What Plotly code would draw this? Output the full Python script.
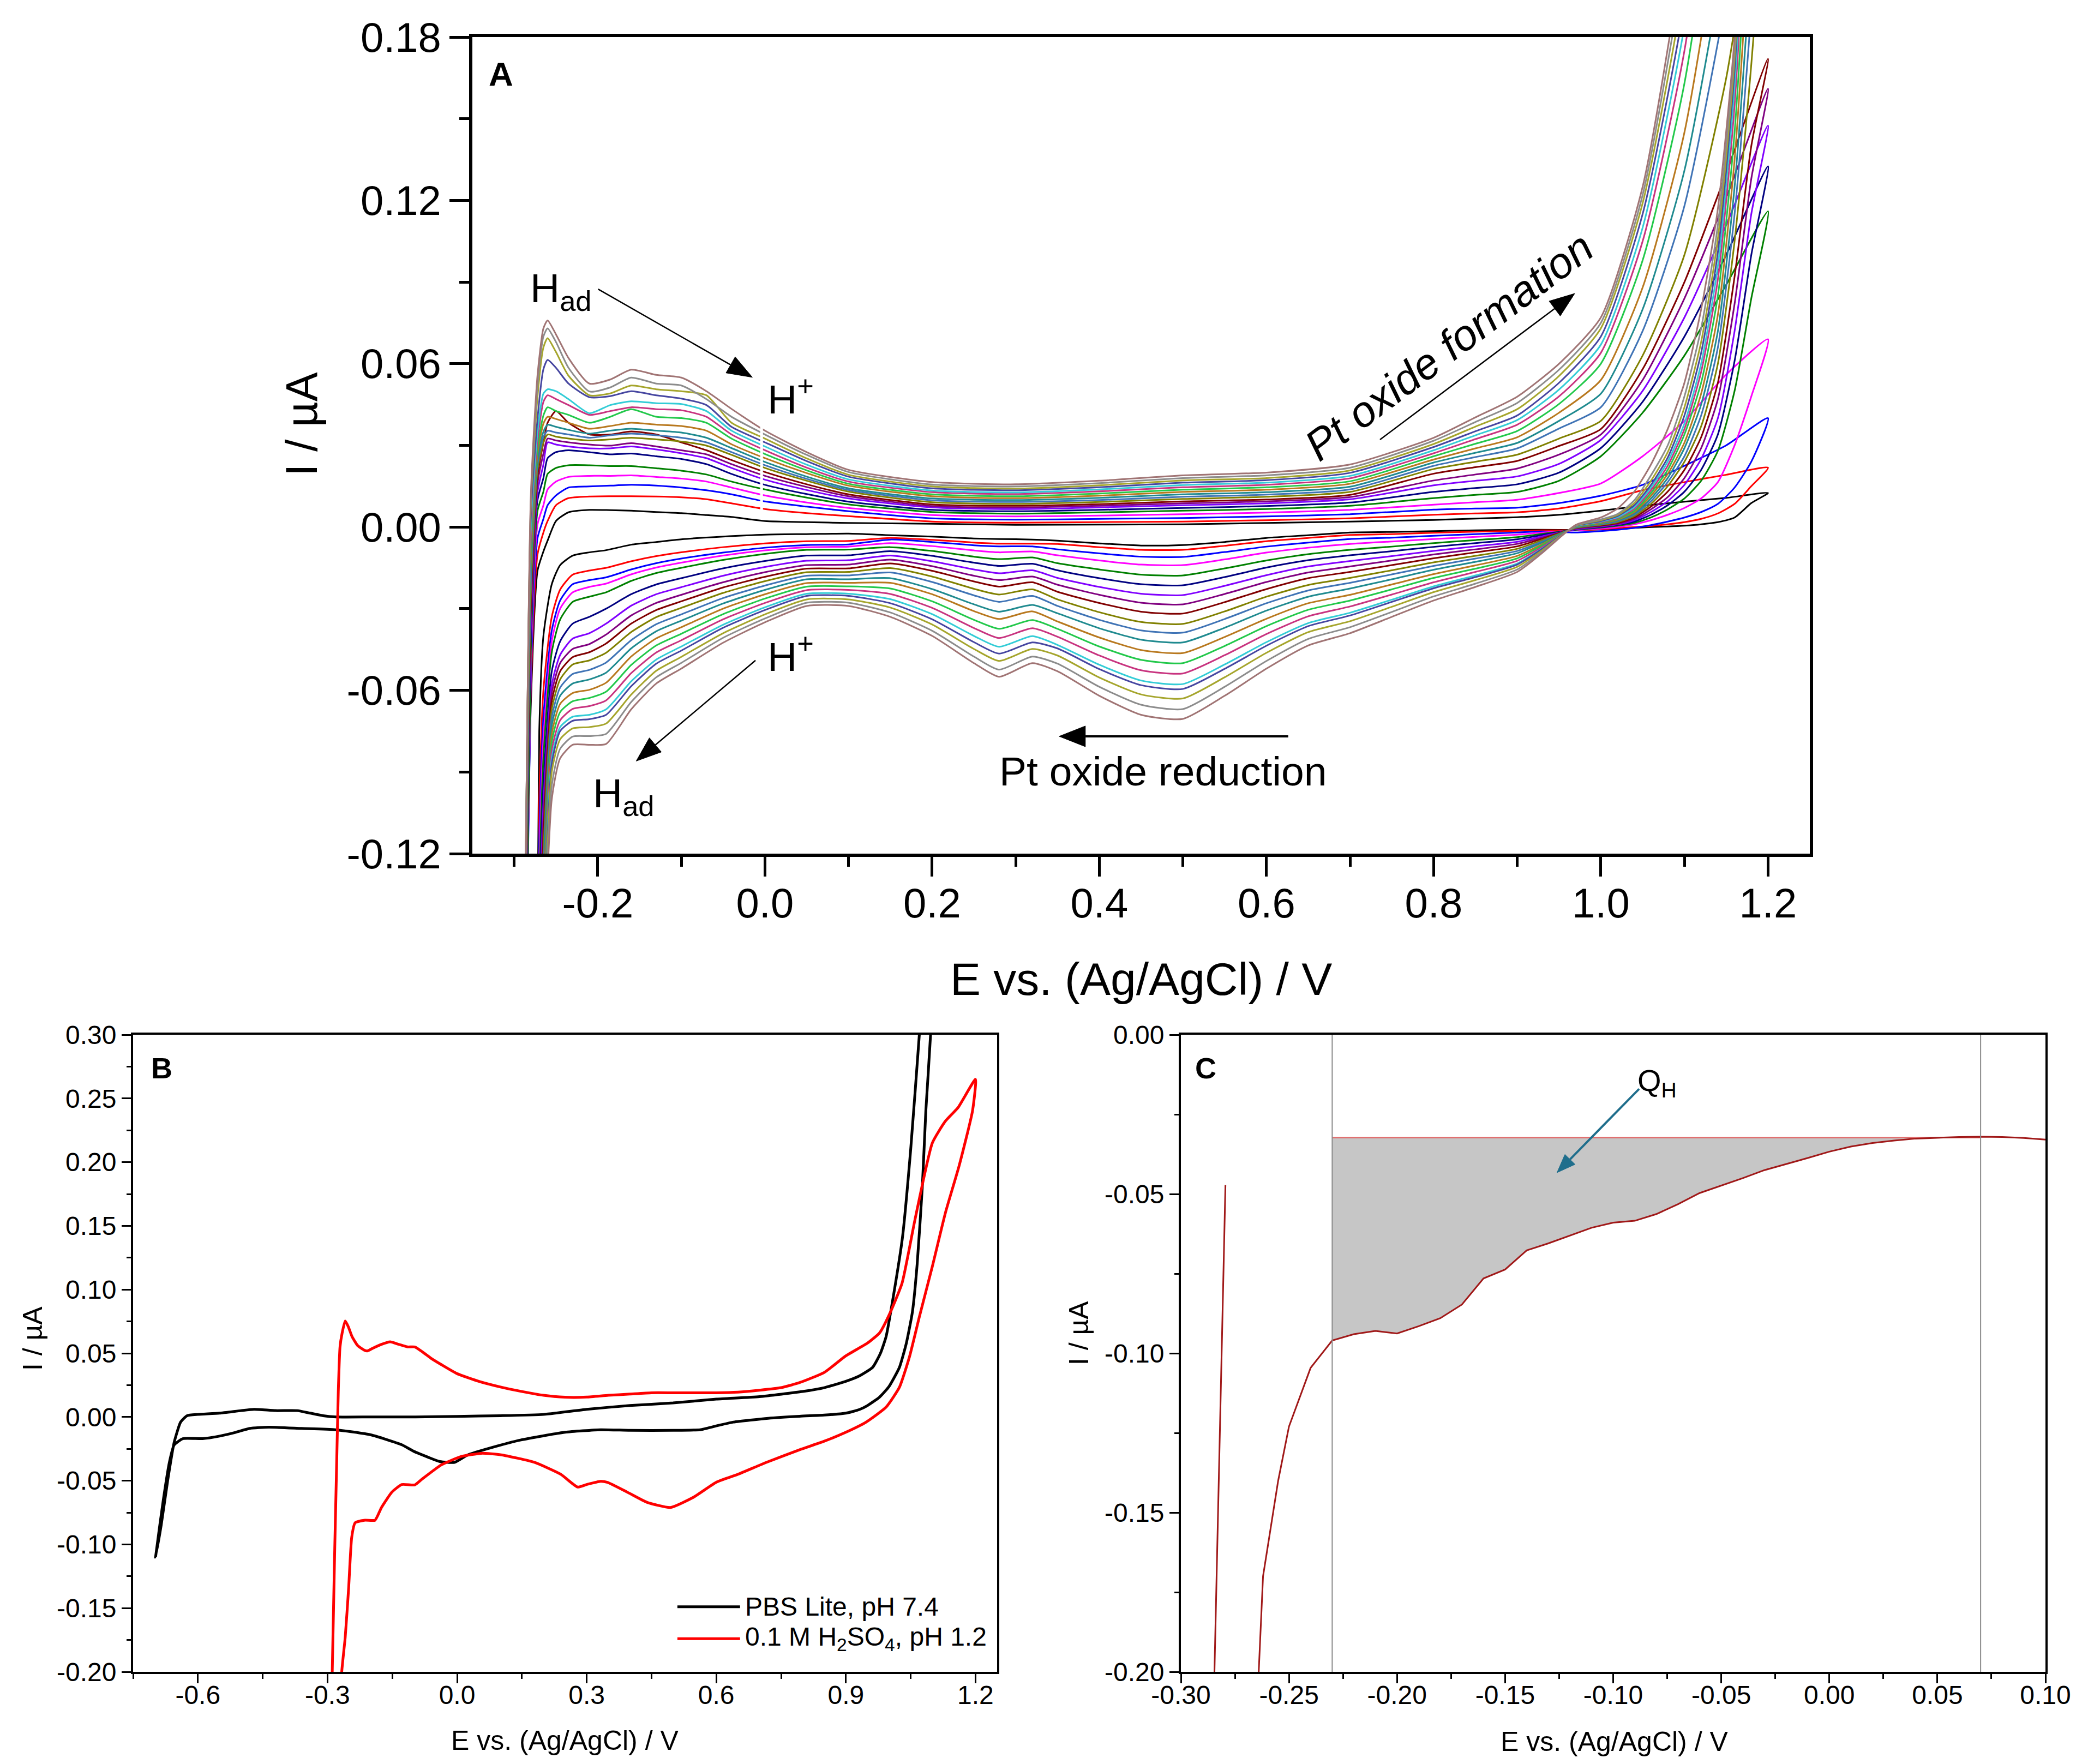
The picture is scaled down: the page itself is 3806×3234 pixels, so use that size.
import plotly.graph_objects as go

FONT = "Liberation Sans, Arial, sans-serif"

# =====================  PANEL A : 20 successive CV cycles  =====================
CYCLE_COLORS = ["#000000", "#FF0000", "#0000FF", "#FF00FF", "#008000",
                "#000080", "#8000FF", "#800080", "#800000", "#808000",
                "#3F73B5", "#1F8A8F", "#B8781E", "#22C84A", "#C8337F",
                "#33CCD6", "#4646A0", "#A5A52C", "#8C8C8C", "#A07474"]

# forward (anodic) sweep potentials, V
A_E_FWD = [-0.290, -0.280, -0.272, -0.265, -0.260, -0.250, -0.235, -0.210, -0.185, -0.160,
           -0.130, -0.100, -0.070, -0.040, 0.000, 0.050, 0.100, 0.200, 0.300, 0.400,
           0.500, 0.600, 0.700, 0.800, 0.850, 0.900, 0.950, 1.000, 1.050, 1.100,
           1.150, 1.200]
# currents (uA) at each forward potential, one value per cycle (cycle 1 ... cycle 20)
A_I_FWD = [
    [-0.25, -0.25, -0.25, -0.25, -0.25, -0.25, -0.25, -0.25, -0.25, -0.25, -0.25, -0.25, -0.25, -0.25, -0.25, -0.25, -0.25, -0.25, -0.25, -0.25],
    [-0.065, -0.060, -0.055, -0.050, -0.045, -0.040, -0.036, -0.032, -0.028, -0.024, -0.020, -0.016, -0.012, -0.008, -0.004, 0.000, 0.004, 0.008, 0.010, 0.012],
    [-0.016, -0.010, -0.004, 0.001, 0.006, 0.010, 0.013, 0.016, 0.019, 0.021, 0.023, 0.025, 0.027, 0.029, 0.032, 0.035, 0.040, 0.048, 0.052, 0.056],
    [-0.009, -0.002, 0.003, 0.008, 0.013, 0.018, 0.023, 0.027, 0.031, 0.031, 0.033, 0.035, 0.038, 0.041, 0.046, 0.049, 0.058, 0.066, 0.070, 0.073],
    [-0.0050, 0.0022, 0.0080, 0.0138, 0.0195, 0.0253, 0.0311, 0.0325, 0.0383, 0.0340, 0.0354, 0.0376, 0.0405, 0.0440, 0.0484, 0.0506, 0.0614, 0.0694, 0.0730, 0.0759],
    [0.0022, 0.0080, 0.0116, 0.0167, 0.0217, 0.0275, 0.0303, 0.0318, 0.0426, 0.0332, 0.0347, 0.0368, 0.0397, 0.0426, 0.0470, 0.0499, 0.0585, 0.0643, 0.0680, 0.0708],
    [0.0054, 0.0106, 0.0145, 0.0184, 0.0227, 0.0282, 0.0296, 0.0311, 0.0383, 0.0325, 0.0340, 0.0357, 0.0383, 0.0412, 0.0448, 0.0470, 0.0527, 0.0556, 0.0585, 0.0621],
    [0.0063, 0.0112, 0.0149, 0.0188, 0.0227, 0.0275, 0.0289, 0.0303, 0.0340, 0.0318, 0.0328, 0.0343, 0.0361, 0.0383, 0.0412, 0.0418, 0.0477, 0.0484, 0.0498, 0.0527],
    [0.0062, 0.0113, 0.0152, 0.0188, 0.0224, 0.0267, 0.0289, 0.0299, 0.0340, 0.0322, 0.0337, 0.0354, 0.0371, 0.0405, 0.0426, 0.0448, 0.0481, 0.0491, 0.0513, 0.0542],
    [0.0060, 0.0113, 0.0155, 0.0190, 0.0224, 0.0270, 0.0296, 0.0308, 0.0351, 0.0328, 0.0343, 0.0361, 0.0383, 0.0433, 0.0440, 0.0462, 0.0499, 0.0520, 0.0549, 0.0578],
    [0.0055, 0.0112, 0.0152, 0.0184, 0.0216, 0.0260, 0.0285, 0.0296, 0.0340, 0.0322, 0.0337, 0.0354, 0.0376, 0.0405, 0.0433, 0.0455, 0.0484, 0.0506, 0.0527, 0.0559],
    [0.0051, 0.0109, 0.0145, 0.0178, 0.0207, 0.0250, 0.0271, 0.0282, 0.0311, 0.0314, 0.0328, 0.0347, 0.0371, 0.0400, 0.0429, 0.0452, 0.0472, 0.0499, 0.0520, 0.0549],
    [0.0044, 0.0102, 0.0135, 0.0167, 0.0193, 0.0231, 0.0253, 0.0267, 0.0282, 0.0299, 0.0311, 0.0328, 0.0354, 0.0383, 0.0405, 0.0426, 0.0448, 0.0484, 0.0470, 0.0499],
    [0.0037, 0.0087, 0.0120, 0.0145, 0.0167, 0.0195, 0.0217, 0.0231, 0.0246, 0.0265, 0.0275, 0.0290, 0.0304, 0.0325, 0.0340, 0.0354, 0.0368, 0.0383, 0.0405, 0.0434],
    [0.0022, 0.0066, 0.0094, 0.0116, 0.0138, 0.0155, 0.0174, 0.0188, 0.0202, 0.0217, 0.0227, 0.0239, 0.0253, 0.0268, 0.0282, 0.0296, 0.0311, 0.0325, 0.0340, 0.0354],
    [0.0018, 0.0051, 0.0075, 0.0090, 0.0108, 0.0121, 0.0136, 0.0147, 0.0157, 0.0170, 0.0177, 0.0185, 0.0198, 0.0208, 0.0218, 0.0229, 0.0242, 0.0252, 0.0265, 0.0275],
    [0.0015, 0.0040, 0.0058, 0.0070, 0.0083, 0.0093, 0.0105, 0.0113, 0.0120, 0.0130, 0.0136, 0.0142, 0.0152, 0.0159, 0.0167, 0.0175, 0.0185, 0.0192, 0.0202, 0.0210],
    [0.0012, 0.0020, 0.0032, 0.0044, 0.0055, 0.0063, 0.0072, 0.0077, 0.0083, 0.0091, 0.0098, 0.0105, 0.0113, 0.0120, 0.0128, 0.0134, 0.0142, 0.0149, 0.0156, 0.0165],
    [0.0008, 0.0016, 0.0027, 0.0039, 0.0049, 0.0058, 0.0066, 0.0072, 0.0078, 0.0085, 0.0092, 0.0099, 0.0106, 0.0113, 0.0121, 0.0127, 0.0135, 0.0141, 0.0149, 0.0157],
    [0.0009, 0.0018, 0.0030, 0.0042, 0.0054, 0.0063, 0.0072, 0.0078, 0.0084, 0.0092, 0.0099, 0.0107, 0.0115, 0.0123, 0.0131, 0.0138, 0.0146, 0.0153, 0.0161, 0.0170],
    [0.0010, 0.0020, 0.0033, 0.0047, 0.0060, 0.0070, 0.0080, 0.0087, 0.0094, 0.0103, 0.0111, 0.0120, 0.0129, 0.0137, 0.0146, 0.0154, 0.0163, 0.0171, 0.0180, 0.0190],
    [0.0015, 0.0025, 0.0039, 0.0053, 0.0066, 0.0077, 0.0087, 0.0094, 0.0101, 0.0111, 0.0119, 0.0128, 0.0137, 0.0146, 0.0155, 0.0163, 0.0172, 0.0180, 0.0190, 0.0200],
    [0.0020, 0.0032, 0.0047, 0.0063, 0.0078, 0.0090, 0.0102, 0.0110, 0.0118, 0.0129, 0.0138, 0.0148, 0.0159, 0.0168, 0.0179, 0.0188, 0.0199, 0.0208, 0.0218, 0.0230],
    [0.0026, 0.0045, 0.0064, 0.0082, 0.0106, 0.0129, 0.0153, 0.0171, 0.0196, 0.0213, 0.0225, 0.0237, 0.0248, 0.0260, 0.0271, 0.0282, 0.0294, 0.0305, 0.0317, 0.0328],
    [0.0031, 0.0050, 0.0068, 0.0091, 0.0118, 0.0143, 0.0170, 0.0193, 0.0220, 0.0240, 0.0257, 0.0273, 0.0289, 0.0306, 0.0323, 0.0337, 0.0352, 0.0369, 0.0386, 0.0403],
    [0.0036, 0.0054, 0.0071, 0.0100, 0.0129, 0.0157, 0.0186, 0.0215, 0.0243, 0.0266, 0.0289, 0.0309, 0.0330, 0.0353, 0.0376, 0.0393, 0.0410, 0.0433, 0.0456, 0.0479],
    [0.0045, 0.0068, 0.0088, 0.0125, 0.0170, 0.0200, 0.0232, 0.0266, 0.0298, 0.0325, 0.0362, 0.0390, 0.0420, 0.0452, 0.0480, 0.0505, 0.0530, 0.0555, 0.0578, 0.0600],
    [0.0060, 0.0095, 0.0115, 0.0160, 0.0260, 0.0290, 0.0320, 0.0340, 0.0360, 0.0390, 0.0440, 0.0490, 0.0540, 0.0600, 0.0640, 0.0670, 0.0700, 0.0730, 0.0750, 0.0770],
    [0.0078, 0.0135, 0.0155, 0.0260, 0.0420, 0.0460, 0.0500, 0.0540, 0.0580, 0.0630, 0.0720, 0.0800, 0.0880, 0.0980, 0.1050, 0.1100, 0.1150, 0.1190, 0.1220, 0.1250],
    [0.0093, 0.0165, 0.0225, 0.0390, 0.0630, 0.0700, 0.0770, 0.0840, 0.0900, 0.1000, 0.1180, 0.1310, 0.1450, 0.1630, 0.1750, 0.1840, 0.1920, 0.2000, 0.2080, 0.2150],
    [0.0107, 0.0192, 0.0300, 0.0560, 0.0890, 0.1000, 0.1110, 0.1210, 0.1300, 0.1650, 0.1950, 0.2150, 0.2400, 0.2700, 0.2900, 0.3000, 0.3100, 0.3200, 0.3300, 0.3400],
    [0.0125, 0.0218, 0.0400, 0.0690, 0.1160, 0.1325, 0.1475, 0.1610, 0.1720, 0.2600, 0.3000, 0.3400, 0.3800, 0.4200, 0.4600, 0.4800, 0.5000, 0.5200, 0.5400, 0.5600],
]

# reverse (cathodic) sweep potentials, V
A_E_REV = [1.18, 1.16, 1.14, 1.12, 1.10, 1.08, 1.06, 1.04, 1.02, 1.00,
           0.97, 0.93, 0.90, 0.85, 0.80, 0.75, 0.70, 0.65, 0.60, 0.55,
           0.50, 0.45, 0.40, 0.35, 0.32, 0.28, 0.25, 0.20, 0.15, 0.10,
           0.05, 0.00, -0.05, -0.10, -0.13, -0.16, -0.19, -0.21, -0.23, -0.245,
           -0.255, -0.265, -0.270, -0.275]
A_I_REV = [
    [0.0088, 0.0150, 0.0240, 0.0480, 0.0840, 0.1000, 0.1150, 0.1280, 0.1400, 0.1700, 0.1900, 0.2100, 0.2300, 0.2500, 0.2700, 0.2800, 0.2900, 0.3000, 0.3100, 0.3200],
    [0.0035, 0.0085, 0.0145, 0.0300, 0.0500, 0.0610, 0.0720, 0.0820, 0.0920, 0.1050, 0.1150, 0.1250, 0.1350, 0.1450, 0.1550, 0.1620, 0.1680, 0.1720, 0.1760, 0.1800],
    [0.0018, 0.0050, 0.0085, 0.0165, 0.0280, 0.0340, 0.0400, 0.0470, 0.0530, 0.0600, 0.0660, 0.0720, 0.0780, 0.0850, 0.0910, 0.0960, 0.1010, 0.1060, 0.1110, 0.1170],
    [0.0010, 0.0030, 0.0055, 0.0105, 0.0170, 0.0210, 0.0250, 0.0290, 0.0330, 0.0370, 0.0410, 0.0450, 0.0490, 0.0530, 0.0570, 0.0600, 0.0640, 0.0680, 0.0730, 0.0800],
    [0.0005, 0.0018, 0.0035, 0.0070, 0.0105, 0.0130, 0.0155, 0.0180, 0.0210, 0.0240, 0.0260, 0.0290, 0.0310, 0.0340, 0.0360, 0.0380, 0.0410, 0.0440, 0.0480, 0.0530],
    [0.0002, 0.0010, 0.0020, 0.0045, 0.0065, 0.0080, 0.0095, 0.0110, 0.0130, 0.0150, 0.0165, 0.0180, 0.0195, 0.0210, 0.0225, 0.0240, 0.0255, 0.0275, 0.0300, 0.0360],
    [0.0000, 0.0004, 0.0007, 0.0025, 0.0035, 0.0045, 0.0055, 0.0065, 0.0075, 0.0085, 0.0095, 0.0105, 0.0115, 0.0125, 0.0135, 0.0145, 0.0155, 0.0170, 0.0190, 0.0230],
    [-0.0003, 0.0000, -0.0003, 0.0010, 0.0015, 0.0020, 0.0025, 0.0030, 0.0035, 0.0040, 0.0045, 0.0050, 0.0055, 0.0060, 0.0067, 0.0073, 0.0080, 0.0088, 0.0098, 0.0130],
    [-0.0006, -0.0004, -0.0010, 0.0000, 0.0005, 0.0008, 0.0010, 0.0012, 0.0015, 0.0018, 0.0021, 0.0024, 0.0027, 0.0030, 0.0033, 0.0036, 0.0040, 0.0044, 0.0048, 0.0068],
    [-0.0009, -0.0008, -0.0015, -0.0006, -0.0002, 0.0000, 0.0002, 0.0004, 0.0006, 0.0008, 0.0010, 0.0012, 0.0014, 0.0016, 0.0018, 0.0020, 0.0022, 0.0025, 0.0028, 0.0035],
    [-0.0011, -0.0012, -0.0020, -0.0012, -0.0010, -0.0009, -0.0008, -0.0006, -0.0004, -0.0003, -0.0002, -0.0001, 0.0000, 0.0001, 0.0002, 0.0003, 0.0004, 0.0005, 0.0006, 0.0008],
    [-0.0010, -0.0012, -0.0016, -0.0020, -0.0025, -0.0029, -0.0034, -0.0039, -0.0043, -0.0048, -0.0053, -0.0057, -0.0063, -0.0067, -0.0073, -0.0078, -0.0080, -0.0085, -0.0090, -0.0095],
    [-0.0010, -0.0014, -0.0020, -0.0028, -0.0037, -0.0045, -0.0054, -0.0062, -0.0071, -0.0080, -0.0088, -0.0096, -0.0106, -0.0115, -0.0124, -0.0134, -0.0138, -0.0146, -0.0156, -0.0165],
    [-0.0012, -0.0017, -0.0026, -0.0036, -0.0048, -0.0059, -0.0071, -0.0082, -0.0093, -0.0106, -0.0116, -0.0128, -0.0141, -0.0153, -0.0165, -0.0178, -0.0184, -0.0195, -0.0208, -0.0220],
    [-0.0015, -0.0021, -0.0032, -0.0044, -0.0059, -0.0073, -0.0088, -0.0101, -0.0115, -0.0130, -0.0143, -0.0157, -0.0173, -0.0187, -0.0203, -0.0218, -0.0225, -0.0239, -0.0255, -0.0270],
    [-0.0018, -0.0026, -0.0039, -0.0053, -0.0072, -0.0089, -0.0107, -0.0123, -0.0140, -0.0159, -0.0174, -0.0192, -0.0211, -0.0229, -0.0248, -0.0267, -0.0275, -0.0293, -0.0312, -0.0330],
    [-0.0020, -0.0029, -0.0044, -0.0062, -0.0084, -0.0104, -0.0125, -0.0145, -0.0165, -0.0187, -0.0205, -0.0226, -0.0249, -0.0270, -0.0292, -0.0315, -0.0325, -0.0346, -0.0368, -0.0390],
    [-0.0030, -0.0040, -0.0057, -0.0076, -0.0100, -0.0122, -0.0145, -0.0167, -0.0188, -0.0213, -0.0233, -0.0256, -0.0280, -0.0304, -0.0328, -0.0353, -0.0364, -0.0386, -0.0411, -0.0435],
    [-0.0040, -0.0052, -0.0072, -0.0094, -0.0123, -0.0149, -0.0177, -0.0202, -0.0228, -0.0256, -0.0280, -0.0307, -0.0337, -0.0364, -0.0393, -0.0423, -0.0436, -0.0462, -0.0492, -0.0520],
    [-0.0055, -0.0069, -0.0092, -0.0119, -0.0152, -0.0184, -0.0216, -0.0246, -0.0276, -0.0310, -0.0338, -0.0370, -0.0404, -0.0437, -0.0471, -0.0505, -0.0521, -0.0552, -0.0587, -0.0620],
    [-0.0066, -0.0084, -0.0110, -0.0140, -0.0178, -0.0214, -0.0250, -0.0284, -0.0318, -0.0356, -0.0388, -0.0424, -0.0463, -0.0500, -0.0538, -0.0577, -0.0595, -0.0630, -0.0669, -0.0705],
    [-0.0068, -0.0084, -0.0109, -0.0138, -0.0175, -0.0210, -0.0245, -0.0278, -0.0311, -0.0349, -0.0380, -0.0414, -0.0452, -0.0488, -0.0526, -0.0564, -0.0581, -0.0615, -0.0653, -0.0690],
    [-0.0060, -0.0074, -0.0097, -0.0123, -0.0156, -0.0188, -0.0220, -0.0249, -0.0279, -0.0313, -0.0341, -0.0372, -0.0406, -0.0439, -0.0472, -0.0506, -0.0522, -0.0553, -0.0587, -0.0620],
    [-0.0050, -0.0062, -0.0082, -0.0104, -0.0133, -0.0159, -0.0187, -0.0212, -0.0238, -0.0266, -0.0290, -0.0317, -0.0347, -0.0374, -0.0403, -0.0433, -0.0446, -0.0472, -0.0502, -0.0530],
    [-0.0046, -0.0061, -0.0071, -0.0090, -0.0112, -0.0135, -0.0159, -0.0182, -0.0203, -0.0229, -0.0253, -0.0286, -0.0310, -0.0342, -0.0372, -0.0401, -0.0424, -0.0448, -0.0476, -0.0500],
    [-0.0044, -0.0061, -0.0071, -0.0093, -0.0118, -0.0143, -0.0170, -0.0195, -0.0219, -0.0248, -0.0275, -0.0311, -0.0338, -0.0374, -0.0408, -0.0440, -0.0465, -0.0492, -0.0524, -0.0550],
    [-0.0042, -0.0057, -0.0067, -0.0086, -0.0109, -0.0131, -0.0156, -0.0179, -0.0200, -0.0227, -0.0251, -0.0284, -0.0309, -0.0341, -0.0371, -0.0400, -0.0423, -0.0448, -0.0476, -0.0500],
    [-0.0035, -0.0047, -0.0055, -0.0070, -0.0088, -0.0106, -0.0126, -0.0144, -0.0161, -0.0182, -0.0202, -0.0228, -0.0247, -0.0273, -0.0297, -0.0320, -0.0339, -0.0358, -0.0381, -0.0400],
    [-0.0030, -0.0040, -0.0046, -0.0059, -0.0074, -0.0089, -0.0105, -0.0120, -0.0134, -0.0151, -0.0167, -0.0188, -0.0205, -0.0226, -0.0246, -0.0265, -0.0280, -0.0296, -0.0314, -0.0330],
    [-0.0024, -0.0051, -0.0064, -0.0072, -0.0083, -0.0104, -0.0122, -0.0138, -0.0152, -0.0165, -0.0178, -0.0192, -0.0205, -0.0218, -0.0231, -0.0245, -0.0253, -0.0266, -0.0278, -0.0290],
    [-0.0026, -0.0052, -0.0066, -0.0074, -0.0084, -0.0105, -0.0124, -0.0140, -0.0153, -0.0166, -0.0179, -0.0192, -0.0206, -0.0219, -0.0232, -0.0245, -0.0253, -0.0266, -0.0278, -0.0290],
    [-0.0028, -0.0060, -0.0076, -0.0086, -0.0099, -0.0125, -0.0147, -0.0166, -0.0183, -0.0199, -0.0215, -0.0231, -0.0247, -0.0263, -0.0279, -0.0295, -0.0305, -0.0321, -0.0336, -0.0350],
    [-0.0035, -0.0074, -0.0094, -0.0105, -0.0121, -0.0152, -0.0179, -0.0203, -0.0222, -0.0242, -0.0261, -0.0281, -0.0300, -0.0320, -0.0339, -0.0359, -0.0370, -0.0390, -0.0407, -0.0425],
    [-0.0045, -0.0093, -0.0116, -0.0131, -0.0150, -0.0188, -0.0221, -0.0249, -0.0273, -0.0297, -0.0321, -0.0344, -0.0368, -0.0392, -0.0416, -0.0439, -0.0454, -0.0477, -0.0499, -0.0520],
    [-0.0055, -0.0107, -0.0133, -0.0149, -0.0169, -0.0211, -0.0247, -0.0279, -0.0305, -0.0331, -0.0357, -0.0383, -0.0409, -0.0435, -0.0461, -0.0487, -0.0502, -0.0528, -0.0552, -0.0575],
    [-0.0065, -0.0126, -0.0156, -0.0174, -0.0198, -0.0247, -0.0289, -0.0325, -0.0355, -0.0386, -0.0416, -0.0446, -0.0476, -0.0507, -0.0537, -0.0567, -0.0585, -0.0616, -0.0643, -0.0670],
    [-0.0085, -0.0150, -0.0185, -0.0208, -0.0240, -0.0300, -0.0355, -0.0395, -0.0428, -0.0462, -0.0498, -0.0535, -0.0572, -0.0605, -0.0637, -0.0670, -0.0690, -0.0722, -0.0760, -0.0797],
    [-0.0093, -0.0160, -0.0195, -0.0220, -0.0256, -0.0330, -0.0390, -0.0430, -0.0460, -0.0490, -0.0525, -0.0560, -0.0598, -0.0628, -0.0658, -0.0690, -0.0706, -0.0735, -0.0768, -0.0800],
    [-0.0105, -0.0175, -0.0210, -0.0240, -0.0275, -0.0355, -0.0410, -0.0448, -0.0478, -0.0505, -0.0540, -0.0575, -0.0610, -0.0640, -0.0668, -0.0697, -0.0712, -0.0740, -0.0770, -0.0800],
    [-0.0140, -0.0230, -0.0270, -0.0300, -0.0340, -0.0420, -0.0470, -0.0500, -0.0530, -0.0560, -0.0590, -0.0620, -0.0650, -0.0680, -0.0710, -0.0735, -0.0750, -0.0780, -0.0815, -0.0850],
    [-0.0210, -0.0330, -0.0380, -0.0420, -0.0460, -0.0530, -0.0580, -0.0610, -0.0640, -0.0670, -0.0700, -0.0730, -0.0760, -0.0790, -0.0820, -0.0850, -0.0870, -0.0900, -0.0950, -0.1000],
    [-0.0400, -0.0600, -0.0700, -0.0780, -0.0850, -0.0950, -0.1020, -0.1080, -0.1140, -0.1200, -0.1260, -0.1320, -0.1380, -0.1440, -0.1500, -0.1540, -0.1570, -0.1600, -0.1630, -0.1660],
    [-0.0750, -0.1000, -0.1150, -0.1250, -0.1350, -0.1450, -0.1550, -0.1650, -0.1750, -0.1850, -0.1950, -0.2000, -0.2000, -0.2000, -0.2000, -0.2000, -0.2000, -0.2000, -0.2000, -0.2000],
    [-0.25, -0.25, -0.25, -0.25, -0.25, -0.25, -0.25, -0.25, -0.25, -0.25, -0.25, -0.25, -0.25, -0.25, -0.25, -0.25, -0.25, -0.25, -0.25, -0.25],
]

A_XTICKS = [-0.2, 0.0, 0.2, 0.4, 0.6, 0.8, 1.0, 1.2]
A_YTICKS = [-0.12, -0.06, 0.00, 0.06, 0.12, 0.18]

# =====================  PANEL B : PBS vs H2SO4  =====================
PBS_E = [-0.698, -0.685, -0.670, -0.655, -0.640, -0.625, -0.600, -0.550, -0.500, -0.470,
         -0.420, -0.370, -0.340, -0.310, -0.280, -0.200, -0.100, 0.000, 0.100, 0.200,
         0.300, 0.400, 0.500, 0.600, 0.700, 0.800, 0.850, 0.900, 0.930, 0.962,
         0.980, 0.993, 1.010, 1.031, 1.050, 1.070, 1.080,
         1.100, 1.096, 1.085, 1.077, 1.065, 1.054, 1.040, 1.024, 1.000, 0.978,
         0.950, 0.931, 0.900, 0.850, 0.793, 0.720, 0.640, 0.600, 0.563, 0.500,
         0.400, 0.332, 0.250, 0.148, 0.080, 0.025, -0.006, -0.040, -0.067, -0.100,
         -0.128, -0.200, -0.282, -0.360, -0.436, -0.480, -0.512, -0.550, -0.589, -0.635,
         -0.655, -0.666, -0.680, -0.698]
PBS_I = [-0.110, -0.085, -0.050, -0.020, -0.004, 0.001, 0.002, 0.003, 0.005, 0.006,
         0.005, 0.005, 0.003, 0.001, 0.000, 0.000, 0.000, 0.0005, 0.001, 0.002,
         0.006, 0.009, 0.011, 0.014, 0.016, 0.020, 0.023, 0.028, 0.032, 0.039,
         0.050, 0.063, 0.095, 0.141, 0.210, 0.300, 0.350,
         0.350, 0.300, 0.240, 0.181, 0.120, 0.0825, 0.058, 0.039, 0.024, 0.0156,
         0.009, 0.0058, 0.003, 0.0015, 0.0006, -0.001, -0.004, -0.007, -0.010, -0.0105,
         -0.0105, -0.010, -0.012, -0.018, -0.024, -0.0297, -0.0356, -0.035, -0.0316, -0.027,
         -0.0218, -0.014, -0.010, -0.009, -0.008, -0.009, -0.012, -0.015, -0.017, -0.017,
         -0.022, -0.0356, -0.065, -0.110]

H2SO4_E = [-0.292, -0.289, -0.286, -0.283, -0.279, -0.275, -0.271, -0.266, -0.259, -0.252,
           -0.243, -0.230, -0.215, -0.208, -0.195, -0.175, -0.155, -0.135, -0.115, -0.098,
           -0.080, -0.060, -0.036, 0.000, 0.050, 0.102, 0.150, 0.200, 0.250, 0.300,
           0.350, 0.400, 0.450, 0.500, 0.550, 0.600, 0.650, 0.700, 0.750, 0.793,
           0.850, 0.900, 0.950, 0.978, 1.000, 1.030, 1.060, 1.100, 1.130, 1.160, 1.200,
           1.193, 1.162, 1.131, 1.100, 1.070, 1.047, 1.024, 0.993, 0.947, 0.900,
           0.850, 0.793, 0.716, 0.650, 0.601, 0.547, 0.494, 0.440, 0.394, 0.348,
           0.332, 0.300, 0.279, 0.240, 0.179, 0.102, 0.056, 0.010, -0.036, -0.082,
           -0.098, -0.128, -0.151, -0.175, -0.190, -0.213, -0.236, -0.244, -0.251, -0.259,
           -0.267, -0.272]
H2SO4_I = [-0.250, -0.200, -0.150, -0.100, -0.040, 0.020, 0.055, 0.066, 0.0754, 0.071,
           0.063, 0.056, 0.0525, 0.0518, 0.054, 0.057, 0.059, 0.057, 0.055, 0.055,
           0.051, 0.046, 0.041, 0.034, 0.028, 0.0234, 0.020, 0.017, 0.0155, 0.0156,
           0.017, 0.018, 0.019, 0.019, 0.019, 0.019, 0.0195, 0.021, 0.023, 0.027,
           0.035, 0.048, 0.058, 0.066, 0.080, 0.105, 0.155, 0.215, 0.232, 0.243, 0.265,
           0.240, 0.197, 0.161, 0.118, 0.0785, 0.047, 0.0234, 0.0077, -0.004, -0.012,
           -0.019, -0.0257, -0.0356, -0.045, -0.051, -0.063, -0.071, -0.067, -0.059, -0.0513,
           -0.0505, -0.053, -0.055, -0.045, -0.0356, -0.0297, -0.0285, -0.031, -0.0375, -0.049,
           -0.0533, -0.053, -0.059, -0.071, -0.081, -0.081, -0.083, -0.0946, -0.134, -0.173,
           -0.200, -0.250]

B_XTICKS = [-0.6, -0.3, 0.0, 0.3, 0.6, 0.9, 1.2]
B_YTICKS = [-0.20, -0.15, -0.10, -0.05, 0.00, 0.05, 0.10, 0.15, 0.20, 0.25, 0.30]

# =====================  PANEL C : H-desorption charge  =====================
C_E = [0.100, 0.090, 0.080, 0.070, 0.060, 0.050, 0.040, 0.030, 0.020, 0.010,
       0.000, -0.010, -0.020, -0.030, -0.040, -0.050, -0.060, -0.070, -0.080, -0.090,
       -0.100, -0.110, -0.120, -0.130, -0.140, -0.150, -0.160, -0.170, -0.180, -0.190,
       -0.200, -0.210, -0.220, -0.230, -0.240, -0.250, -0.255, -0.260, -0.262, -0.264,
       -0.270, -0.2878, -0.2845, -0.2794]
C_I = [-0.0329, -0.0324, -0.0321, -0.0320, -0.0321, -0.0323, -0.0326, -0.0332, -0.0340, -0.0351,
       -0.0367, -0.0387, -0.0406, -0.0425, -0.0450, -0.0474, -0.0497, -0.0532, -0.0563, -0.0584,
       -0.0590, -0.0606, -0.0630, -0.0655, -0.0677, -0.0737, -0.0765, -0.0847, -0.0890, -0.0915,
       -0.0938, -0.0930, -0.0940, -0.0960, -0.1046, -0.1230, -0.1400, -0.1610, -0.1700, -0.2000,
       -0.3000, -0.3000, -0.2000, -0.0472]
QH_E_START = -0.23
QH_E_END = 0.07
QH_FILL_END = 0.045
QH_BASELINE = -0.0323

C_XTICKS = [-0.30, -0.25, -0.20, -0.15, -0.10, -0.05, 0.00, 0.05, 0.10]
C_YTICKS = [-0.20, -0.15, -0.10, -0.05, 0.00]

assert len(A_E_FWD) == len(A_I_FWD) and len(A_E_REV) == len(A_I_REV)
assert len(PBS_E) == len(PBS_I) and len(H2SO4_E) == len(H2SO4_I) and len(C_E) == len(C_I)

# =====================  FIGURE  =====================
W, H = 3806, 3234
fig = go.Figure()

# Panel A traces
for k, col in enumerate(CYCLE_COLORS):
    xs = A_E_FWD + A_E_REV
    ys = [row[k] for row in A_I_FWD] + [row[k] for row in A_I_REV]
    fig.add_trace(go.Scatter(x=xs, y=ys, mode="lines",
                             line=dict(color=col, width=3, shape="spline", smoothing=0.6),
                             xaxis="x", yaxis="y", showlegend=False, hoverinfo="skip"))

# Panel B traces
fig.add_trace(go.Scatter(x=PBS_E, y=PBS_I, mode="lines",
                         line=dict(color="#000000", width=5, shape="spline", smoothing=0.5),
                         xaxis="x2", yaxis="y2", showlegend=False))
fig.add_trace(go.Scatter(x=H2SO4_E, y=H2SO4_I, mode="lines",
                         line=dict(color="#FF0000", width=5, shape="spline", smoothing=0.5),
                         xaxis="x2", yaxis="y2", showlegend=False))

# Panel C traces: shaded Q_H area, baseline, curve
fill_pts = [(e, i) for e, i in zip(C_E, C_I) if QH_E_START <= e <= QH_FILL_END]
fill_x = [p[0] for p in fill_pts] + [QH_E_START, QH_FILL_END]
fill_y = [p[1] for p in fill_pts] + [QH_BASELINE, QH_BASELINE]
fig.add_trace(go.Scatter(x=fill_x, y=fill_y, mode="lines", fill="toself", fillcolor="#C6C6C6",
                         line=dict(width=0, color="#C6C6C6"), xaxis="x3", yaxis="y3", showlegend=False))
fig.add_trace(go.Scatter(x=[QH_E_START, QH_E_END], y=[QH_BASELINE, QH_BASELINE], mode="lines",
                         line=dict(color="#E06A6A", width=2.5), xaxis="x3", yaxis="y3", showlegend=False))
fig.add_trace(go.Scatter(x=C_E, y=C_I, mode="lines", line=dict(color="#A01818", width=3),
                         xaxis="x3", yaxis="y3", showlegend=False))


def fmt_ticks(vals, nd):
    return [f"{v:.{nd}f}" for v in vals]


def make_axis(domain, rng, ticks, nd, minor_dtick, lw, tlen, tw, fsize, anchor, standoff=0):
    return dict(domain=domain, range=rng, anchor=anchor, automargin=False,
                tickmode="array", tickvals=ticks, ticktext=fmt_ticks(ticks, nd),
                ticks="outside", ticklen=tlen, tickwidth=tw, tickcolor="black",
                ticklabelstandoff=standoff,
                showline=True, linewidth=lw, linecolor="black", mirror=True,
                showgrid=False, zeroline=False,
                tickfont=dict(family=FONT, size=fsize, color="black"),
                minor=dict(dtick=minor_dtick, tick0=0, ticks="outside", ticklen=tlen * 0.5,
                           tickwidth=tw, tickcolor="black", showgrid=False))


def px_x(p):
    return p / W


def px_y(p):
    return 1 - p / H


A_DX = [px_x(858), px_x(3310)]
A_DY = [px_y(1557), px_y(60)]
B_DX = [px_x(236), px_x(1820)]
C_DX = [px_x(2157), px_x(3742)]
BC_DY = [px_y(3057), px_y(1889)]
A_RX, A_RY = [-0.35, 1.25], [-0.12, 0.18]
C_RX, C_RY = [-0.30, 0.10], [-0.20, 0.00]

fig.update_layout(
    width=W, height=H, margin=dict(l=0, r=0, t=0, b=0, autoexpand=False),
    paper_bgcolor="white", plot_bgcolor="white", showlegend=False,
    font=dict(family=FONT, color="black"),
    xaxis=make_axis(A_DX, A_RX, A_XTICKS, 1, 0.1, 6, 36, 5, 76, "y", -16),
    yaxis=make_axis(A_DY, A_RY, A_YTICKS, 2, 0.03, 6, 36, 5, 76, "x"),
    xaxis2=make_axis(B_DX, [-0.75, 1.25], B_XTICKS, 1, 0.15, 4, 17, 3, 48, "y2", -20),
    yaxis2=make_axis(BC_DY, [-0.20, 0.30], B_YTICKS, 2, 0.025, 4, 17, 3, 48, "x2"),
    xaxis3=make_axis(C_DX, C_RX, C_XTICKS, 2, 0.025, 4, 17, 3, 48, "y3", -20),
    yaxis3=make_axis(BC_DY, C_RY, C_YTICKS, 2, 0.025, 4, 17, 3, 48, "x3"),
)

# pixel scales of panels A and C (px per data unit), used to shape arrowheads
A_SX = (A_DX[1] - A_DX[0]) * W / (A_RX[1] - A_RX[0])
A_SY = (A_DY[1] - A_DY[0]) * H / (A_RY[1] - A_RY[0])
C_SX = (C_DX[1] - C_DX[0]) * W / (C_RX[1] - C_RX[0])
C_SY = (BC_DY[1] - BC_DY[0]) * H / (C_RY[1] - C_RY[0])

ann = []
shapes = []


def text(x, y, s, size, xref="x", yref="y", xanchor="center", yanchor="middle", angle=0, color="black"):
    ann.append(dict(x=x, y=y, xref=xref, yref=yref, text=s, showarrow=False, xanchor=xanchor,
                    yanchor=yanchor, textangle=angle, font=dict(family=FONT, size=size, color=color)))


def arrow(x0, y0, x1, y1, xref, yref, sx, sy, width, head_len, head_half, color="black"):
    dx, dy = (x1 - x0) * sx, (y1 - y0) * sy
    d = (dx * dx + dy * dy) ** 0.5
    ux, uy = dx / d, dy / d
    nx, ny = -uy, ux
    bx, by = x1 - head_len * ux / sx, y1 - head_len * uy / sy
    p1 = (bx + head_half * nx / sx, by + head_half * ny / sy)
    p2 = (bx - head_half * nx / sx, by - head_half * ny / sy)
    shapes.append(dict(type="line", xref=xref, yref=yref, x0=x0, y0=y0, x1=bx, y1=by,
                       line=dict(color=color, width=width), layer="above"))
    shapes.append(dict(type="path", xref=xref, yref=yref,
                       path=f"M{x1},{y1} L{p1[0]},{p1[1]} L{p2[0]},{p2[1]} Z",
                       fillcolor=color, line=dict(color=color, width=1), layer="above"))


# axis titles
text(px_x(2084), px_y(1787), "E vs. (Ag/AgCl) / V", 84, "paper", "paper")
text(px_x(545), px_y(770), "I / µA", 81, "paper", "paper", angle=-90)
text(px_x(1027), px_y(3183), "E vs. (Ag/AgCl) / V", 50, "paper", "paper")
text(px_x(52), px_y(2446), "I / µA", 50, "paper", "paper", angle=-90)
text(px_x(2951), px_y(3185), "E vs. (Ag/AgCl) / V", 50, "paper", "paper")
text(px_x(1970), px_y(2436), "I / µA", 50, "paper", "paper", angle=-90)

# Panel A annotations
text(-0.316, 0.1664, "<b>A</b>", 62)
text(-0.282, 0.0868, "H<sub>ad</sub>", 75, xanchor="left")
arrow(-0.1995, 0.0874, -0.015, 0.055, "x", "y", A_SX, A_SY, 2.5, 46, 17)
text(0.002, 0.0481, "H<sup>+</sup>", 75, xanchor="left")
text(0.002, -0.0465, "H<sup>+</sup>", 75, xanchor="left")
arrow(-0.0113, -0.049, -0.154, -0.086, "x", "y", A_SX, A_SY, 2.5, 46, 17)
text(-0.207, -0.0988, "H<sub>ad</sub>", 75, xanchor="left")
text(0.8185, 0.0664, "<i>Pt oxide formation</i>", 79, angle=-37)
arrow(0.7358, 0.0321, 0.9688, 0.0858, "x", "y", A_SX, A_SY, 2.5, 46, 17)
text(0.476, -0.0897, "Pt oxide reduction", 75)
arrow(0.626, -0.0769, 0.352, -0.0769, "x", "y", A_SX, A_SY, 4, 48, 19)
shapes.append(dict(type="line", xref="x", yref="y", x0=-0.004, x1=-0.004, y0=0.003, y1=0.037,
                   line=dict(color="white", width=5), layer="above"))

# Panel B annotations + legend
text(-0.684, 0.274, "<b>B</b>", 54, "x2", "y2")
shapes.append(dict(type="line", xref="x2", yref="y2", x0=0.51, x1=0.655, y0=-0.149, y1=-0.149,
                   line=dict(color="#000000", width=5)))
shapes.append(dict(type="line", xref="x2", yref="y2", x0=0.51, x1=0.655, y0=-0.174, y1=-0.174,
                   line=dict(color="#FF0000", width=5)))
text(0.664, -0.149, "PBS Lite, pH 7.4", 48, "x2", "y2", xanchor="left")
text(0.664, -0.174, "0.1 M H<sub>2</sub>SO<sub>4</sub>, pH 1.2", 48, "x2", "y2", xanchor="left")

# Panel C annotations
text(-0.2884, -0.0104, "<b>C</b>", 54, "x3", "y3")
text(-0.0797, -0.0150, "Q<sub>H</sub>", 56, "x3", "y3")
arrow(-0.088, -0.017, -0.126, -0.0433, "x3", "y3", C_SX, C_SY, 4, 34, 13, color="#1F6E8C")
for xv in (QH_E_START, QH_E_END):
    shapes.append(dict(type="line", xref="x3", yref="y3 domain", x0=xv, x1=xv, y0=0, y1=1,
                       line=dict(color="#8A8A8A", width=2), layer="above"))

fig.update_layout(annotations=ann, shapes=shapes)
fig.write_html("out.html")
